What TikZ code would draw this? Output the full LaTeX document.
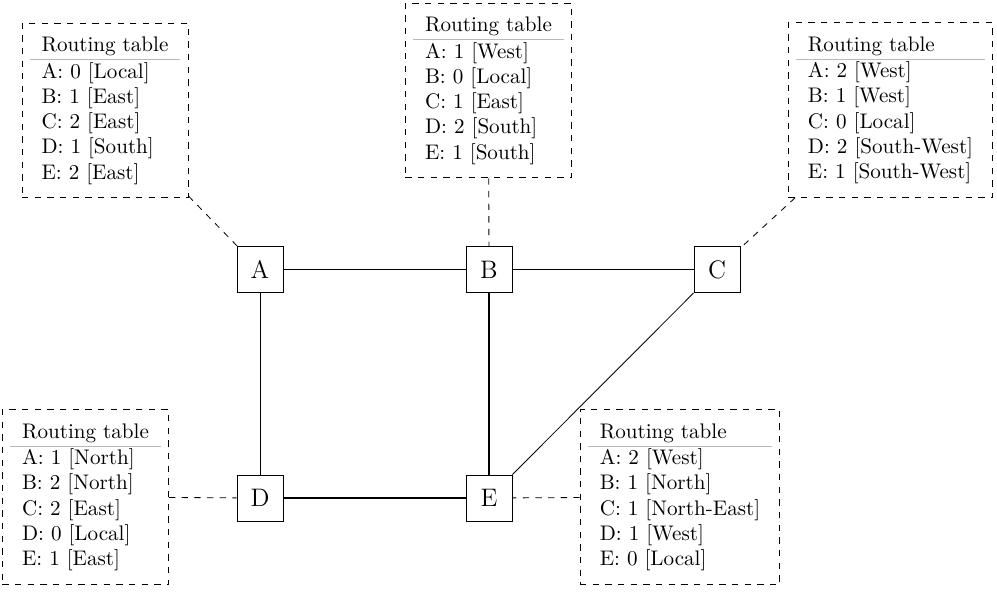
\documentclass[tikz,border=0pt]{standalone}
\usepackage[table]{xcolor}
\newcommand{\rtab}[1]{\begin{tabular}{@{\hspace{5.5pt}}l@{\hspace{5.5pt}}}Routing table\\\arrayrulecolor{gray!55}\hline #1\end{tabular}}
\tikzset{
  router/.style={draw, minimum size=21.8pt, inner sep=0pt, font=\large},
  rtable/.style={draw, dashed, inner xsep=3.8pt, inner ysep=5.2pt},
  link/.style={line width=0.4pt},
  boldlink/.style={line width=0.8pt},
  tablelink/.style={dashed, line width=0.4pt},
}
\begin{document}
\begin{tikzpicture}[x=0.474pt, y=-0.474pt]
\useasboundingbox (0,0) rectangle (997,591);
% routers
\node[router] (A) at (260,269.5) {A};
\node[router] (B) at (489,269.5) {B};
\node[router] (C) at (717,269.5) {C};
\node[router] (D) at (260,498) {D};
\node[router] (E) at (489,498) {E};
% tables
\node[rtable] (tA) at (105,110.5) {\rtab{A: 0 [Local]\\B: 1 [East]\\C: 2 [East]\\D: 1 [South]\\E: 2 [East]}};
\node[rtable] (tB) at (488.5,90.5) {\rtab{A: 1 [West]\\B: 0 [Local]\\C: 1 [East]\\D: 2 [South]\\E: 1 [South]}};
\node[rtable] (tC) at (890.5,110) {\rtab{A: 2 [West]\\B: 1 [West]\\C: 0 [Local]\\D: 2 [South-West]\\E: 1 [South-West]}};
\node[rtable] (tD) at (85.5,497) {\rtab{A: 1 [North]\\B: 2 [North]\\C: 2 [East]\\D: 0 [Local]\\E: 1 [East]}};
\node[rtable] (tE) at (680,497) {\rtab{A: 2 [West]\\B: 1 [North]\\C: 1 [North-East]\\D: 1 [West]\\E: 0 [Local]}};
% links
\draw[link] (A) -- (B);
\draw[link] (B) -- (C);
\draw[link] (A) -- (D);
\draw[boldlink] (B) -- (E);
\draw[boldlink] (D) -- (E);
\draw[link] (C) -- (E);
% table connectors
\draw[tablelink] (tA) -- (A);
\draw[tablelink] (tB) -- (B);
\draw[tablelink] (tC) -- (C);
\draw[tablelink] (tD) -- (D);
\draw[tablelink] (tE) -- (E);
\end{tikzpicture}
\end{document}
